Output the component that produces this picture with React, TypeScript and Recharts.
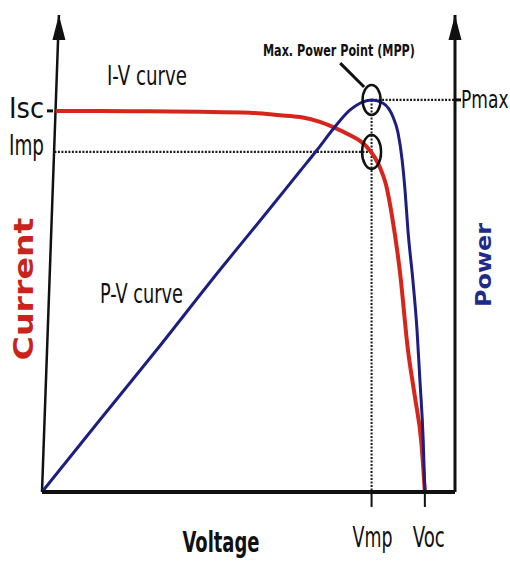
import React from "react";
import {
  ComposedChart,
  Line,
  XAxis,
  YAxis,
  ReferenceLine,
  ReferenceDot,
  Label,
} from "recharts";

// I-V curve (red), current vs voltage
const ivVoltage = [3.3, 14, 26.2, 38.3, 50.4, 57.6, 62.5, 67.3, 70.5, 74.6, 77.0, 78.7, 80.6, 81.8, 83.3, 84.7, 86.7, 88.6, 90.3, 91.9, 92.7];
const ivCurrent = [79.9, 79.9, 79.8, 79.7, 79.5, 79.0, 78.6, 77.6, 76.5, 74.8, 73.6, 72.3, 70.1, 68.1, 64.4, 58.1, 45.9, 29.8, 19.9, 9.9, 0];

// P-V curve (blue), power vs voltage
const pvVoltage = [0, 14.0, 27.4, 43.1, 54.5, 62.5, 66.6, 70.5, 74.6, 77.0, 79.9, 82.6, 85.0, 86.2, 87.2, 87.9, 88.6, 89.8, 90.8, 91.5, 92.3, 92.7];
const pvPower = [0, 15.1, 29.4, 46.6, 58.7, 67.3, 71.7, 76.1, 80.1, 81.5, 82.2, 81.5, 78.6, 75.3, 69.6, 63.3, 54.9, 44.4, 34.0, 23.5, 10.9, 0];

// key points
const Isc = 79.9;
const Imp = 71.3;
const Pmax = 82.2;
const Vmp = 79.8;
const Voc = 92.7;

const currentTicks = [Isc, Imp];
const currentTickLabels = ["Isc", "Imp"];
const voltageTicks = [Vmp, Voc];
const voltageTickLabels = ["Vmp", "Voc"];

const ivData = ivVoltage.map((v, k) => ({ v, i: ivCurrent[k] }));
const pvData = pvVoltage.map((v, k) => ({ v, p: pvPower[k] }));

const NARROW = "'Liberation Sans Narrow', 'DejaVu Sans Condensed', 'Liberation Sans', sans-serif";
const WIDE = "'DejaVu Sans', Verdana, sans-serif";
const RED = "#d6261c";
const BLUE = "#1e1e80";

const textShape =
  (text: string, size: number, len: number, bold = false) =>
  (props: any) =>
    (
      <text
        x={props.cx}
        y={props.cy}
        textAnchor="middle"
        fontFamily={NARROW}
        fontSize={size}
        fontWeight={bold ? "bold" : "normal"}
        textLength={len}
        lengthAdjust="spacingAndGlyphs"
        fill="#111"
      >
        {text}
      </text>
    );

const ellipseShape = (rx: number, ry: number) => (props: any) =>
  <ellipse cx={props.cx} cy={props.cy} rx={rx} ry={ry} fill="none" stroke="#111" strokeWidth={2.5} />;

const arrowShape = (props: any) => {
  const { cx, cy } = props;
  return <polygon points={`${cx},${cy} ${cx - 6.5},${cy + 25} ${cx + 6.5},${cy + 25}`} fill="#111" />;
};

const CurrentTick = (props: any) => {
  const { x, y, payload } = props;
  const idx = currentTicks.indexOf(payload.value);
  const isc = idx === 0;
  return (
    <g>
      {isc && <line x1={x + 5} x2={x + 11} y1={y} y2={y} stroke="#111" strokeWidth={3} />}
      <text
        x={x + 2}
        y={isc ? y + 7 : y + 3}
        textAnchor="end"
        fontFamily={NARROW}
        fontSize={29}
        textLength={35}
        lengthAdjust="spacingAndGlyphs"
        fill="#111"
      >
        {currentTickLabels[idx]}
      </text>
    </g>
  );
};

const VoltageTick = (props: any) => {
  const { x, y, payload } = props;
  const idx = voltageTicks.indexOf(payload.value);
  return (
    <text
      x={x + (idx === 1 ? 4 : 1)}
      y={y + 38}
      textAnchor="middle"
      fontFamily={NARROW}
      fontSize={28}
      textLength={idx === 1 ? 32 : 40}
      lengthAdjust="spacingAndGlyphs"
      fill="#111"
    >
      {voltageTickLabels[idx]}
    </text>
  );
};

const PowerTick = (props: any) => {
  const { y } = props;
  return (
    <text
      x={0}
      y={0}
      transform={`translate(461 ${y + 8}) scale(1 1.35)`}
      fontFamily={NARROW}
      fontSize={19}
      fill="#111"
    >
      Pmax
    </text>
  );
};

const VoltageLabel = (props: any) => {
  const { viewBox } = props;
  return (
    <text
      x={viewBox.x + 179}
      y={viewBox.y + 60}
      textAnchor="middle"
      fontFamily={NARROW}
      fontSize={28}
      fontWeight="bold"
      textLength={77}
      lengthAdjust="spacingAndGlyphs"
      fill="#111"
    >
      Voltage
    </text>
  );
};

const CurrentLabel = (props: any) => {
  const { viewBox } = props;
  const cx = viewBox.x + 33;
  const cy = 289;
  return (
    <text
      x={cx}
      y={cy}
      transform={`rotate(-90 ${cx} ${cy})`}
      textAnchor="middle"
      fontFamily={WIDE}
      fontSize={27}
      fontWeight="bold"
      textLength={143}
      lengthAdjust="spacingAndGlyphs"
      fill="#c8241c"
    >
      Current
    </text>
  );
};

const PowerLabel = (props: any) => {
  const { viewBox } = props;
  const cx = viewBox.x + 36;
  const cy = 265;
  return (
    <text
      x={cx}
      y={cy}
      transform={`rotate(-90 ${cx} ${cy})`}
      textAnchor="middle"
      fontFamily={WIDE}
      fontSize={21}
      fontWeight="bold"
      textLength={84}
      lengthAdjust="spacingAndGlyphs"
      fill="#1f2b8c"
    >
      Power
    </text>
  );
};

export default function App() {
  return (
    <div style={{ position: "absolute", left: 0, top: 0, background: "#fff" }}>
      <ComposedChart width={510} height={563} margin={{ top: 15, right: 0, bottom: 0, left: 0 }}>
        <XAxis
          type="number"
          dataKey="v"
          domain={[0, 100]}
          allowDataOverflow
          ticks={voltageTicks}
          interval={0}
          height={71}
          axisLine={{ stroke: "#111", strokeWidth: 4 }}
          tickLine={{ stroke: "#111", strokeWidth: 2 }}
          tickSize={15}
          tick={<VoltageTick />}
        >
          <Label content={<VoltageLabel />} />
        </XAxis>
        <YAxis
          yAxisId="i"
          type="number"
          domain={[0, 100]}
          allowDataOverflow
          width={42}
          ticks={currentTicks}
          interval={0}
          axisLine={false}
          tickLine={false}
          tickSize={0}
          tickMargin={0}
          tick={<CurrentTick />}
        >
          <Label content={<CurrentLabel />} />
        </YAxis>
        <YAxis
          yAxisId="p"
          orientation="right"
          type="number"
          domain={[0, 100]}
          allowDataOverflow
          width={55}
          ticks={[Pmax]}
          interval={0}
          axisLine={{ stroke: "#111", strokeWidth: 3 }}
          tickLine={{ stroke: "#111", strokeWidth: 3 }}
          tickSize={6}
          tick={<PowerTick />}
        >
          <Label content={<PowerLabel />} />
        </YAxis>

        {/* tilted left axis */}
        <ReferenceLine
          yAxisId="i"
          segment={[{ x: 0, y: 0 }, { x: 4.1, y: 100 }]}
          stroke="#111"
          strokeWidth={2.5}
          ifOverflow="visible"
        />
        <ReferenceDot yAxisId="i" x={4.1} y={100} r={1} shape={arrowShape} ifOverflow="visible" />
        <ReferenceDot yAxisId="p" x={100} y={100} r={1} shape={arrowShape} ifOverflow="visible" />

        {/* dotted guides */}
        <ReferenceLine
          yAxisId="i"
          segment={[{ x: 3.0, y: Imp }, { x: Vmp, y: Imp }]}
          stroke="#1a1a1a"
          strokeWidth={2.4}
          strokeDasharray="2 1.5"
          ifOverflow="visible"
        />
        <ReferenceLine
          yAxisId="p"
          segment={[{ x: Vmp, y: Pmax }, { x: 100, y: Pmax }]}
          stroke="#1a1a1a"
          strokeWidth={2.4}
          strokeDasharray="2 1.5"
          ifOverflow="visible"
        />
        <ReferenceLine
          yAxisId="p"
          segment={[{ x: Vmp, y: Pmax }, { x: Vmp, y: 0 }]}
          stroke="#1a1a1a"
          strokeWidth={2}
          strokeDasharray="2 1.5"
          ifOverflow="visible"
        />

        <Line
          data={ivData}
          yAxisId="i"
          dataKey="i"
          type="monotone"
          stroke={RED}
          strokeWidth={4}
          dot={false}
          isAnimationActive={false}
        />
        <Line
          data={pvData}
          yAxisId="p"
          dataKey="p"
          type="monotone"
          stroke={BLUE}
          strokeWidth={3}
          dot={false}
          isAnimationActive={false}
        />

        {/* MPP markers */}
        <ReferenceDot yAxisId="p" x={Vmp} y={Pmax} r={1} shape={ellipseShape(9, 15)} ifOverflow="visible" />
        <ReferenceDot yAxisId="i" x={Vmp} y={Imp} r={1} shape={ellipseShape(9.5, 17)} ifOverflow="visible" />
        <ReferenceLine
          yAxisId="i"
          segment={[{ x: 72.2, y: 89.9 }, { x: 78.0, y: 84.9 }]}
          stroke="#111"
          strokeWidth={3}
          ifOverflow="visible"
        />

        {/* annotations */}
        <ReferenceDot yAxisId="i" x={25.4} y={85.3} r={1} shape={textShape("I-V curve", 27, 80)} ifOverflow="visible" />
        <ReferenceDot yAxisId="i" x={24.1} y={39.6} r={1} shape={textShape("P-V curve", 27, 83)} ifOverflow="visible" />
        <ReferenceDot
          yAxisId="i"
          x={71.9}
          y={91.4}
          r={1}
          shape={textShape("Max. Power Point (MPP)", 15, 152, true)}
          ifOverflow="visible"
        />
      </ComposedChart>
    </div>
  );
}
